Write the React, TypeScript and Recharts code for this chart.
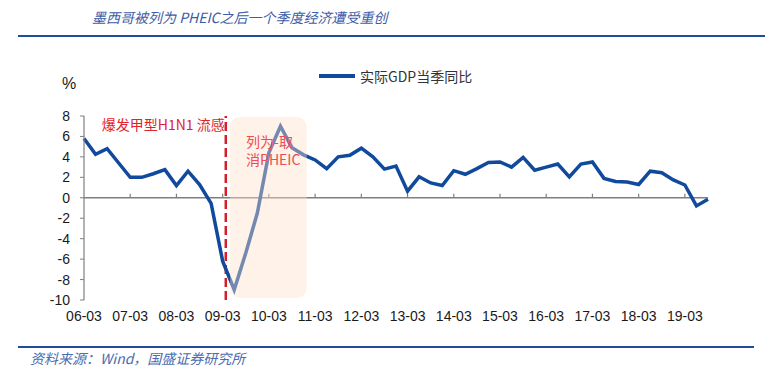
import { LineChart, Line, XAxis, YAxis, ReferenceLine, ReferenceArea } from 'recharts';

// Mexico real GDP, yoy %, quarterly 2006-03 .. 2019-09
const GDP_YOY = [
  5.8, 4.25, 4.8, 3.4, 2.0, 2.0, 2.35, 2.75, 1.2, 2.6, 1.3, -0.55,
  -6.2, -9.0, -5.4, -1.5, 4.4, 7.0, 4.9, 4.2, 3.7, 2.85, 4.0, 4.15,
  4.85, 4.0, 2.8, 3.1, 0.65, 2.05, 1.45, 1.2, 2.65, 2.3, 2.85, 3.45,
  3.5, 3.0, 3.95, 2.7, 3.0, 3.3, 2.05, 3.3, 3.5, 1.9, 1.6, 1.55,
  1.3, 2.6, 2.45, 1.75, 1.25, -0.8, -0.15,
];
const YEAR_LABELS = [
  '06-03', '07-03', '08-03', '09-03', '10-03', '11-03', '12-03',
  '13-03', '14-03', '15-03', '16-03', '17-03', '18-03', '19-03',
];
const Y_TICKS = [-10, -8, -6, -4, -2, 0, 2, 4, 6, 8];

// annotation spots, in quarter index / % units
const OUTBREAK_AT = 12.27;
const PHEIC_SPAN = [12.64, 19.28];
const PHEIC_RANGE = [-9.8, 7.9];

const data = GDP_YOY.map((v, i) => ({ i, v }));
const xTicks = YEAR_LABELS.map((_, k) => k * 4);

const CJK = '"Noto Sans CJK SC", "Liberation Sans", sans-serif';
const NUM = '"Liberation Sans", Arial, sans-serif';
const BLUE = '#114A9C';
const RED = '#E0222C';

export default function App() {
  return (
    <div
      style={{
        position: 'absolute',
        left: 0,
        top: 0,
        width: 765,
        height: 380,
        background: '#fff',
        overflow: 'hidden',
        fontFamily: CJK,
      }}
    >
      <LineChart
        width={765}
        height={380}
        data={data}
        margin={{ top: 116, right: 57, bottom: 50, left: 44 }}
        style={{ position: 'absolute', left: 0, top: 0 }}
      >
        <XAxis
          type="number"
          dataKey="i"
          domain={[0, GDP_YOY.length - 1]}
          ticks={xTicks}
          tickFormatter={(v: number) => YEAR_LABELS[v / 4]}
          axisLine={false}
          tickLine={false}
          tickMargin={5}
          height={30}
          interval={0}
          tick={{ fill: '#1a1a1a', fontSize: 14, fontFamily: NUM }}
        />
        <YAxis
          domain={[-10, 8]}
          ticks={Y_TICKS}
          interval={0}
          width={40}
          axisLine={{ stroke: '#7f7f7f', strokeWidth: 1.2 }}
          tickLine={{ stroke: '#7f7f7f' }}
          tickSize={4}
          tickMargin={10}
          tick={{ fill: '#1a1a1a', fontSize: 14, fontFamily: NUM }}
        />
        <ReferenceLine y={0} stroke="#7f7f7f" strokeWidth={1.5} />
        {xTicks.slice(1).map((t) => (
          <ReferenceLine
            key={t}
            segment={[
              { x: t, y: 0 },
              { x: t, y: 0.4 },
            ]}
            stroke="#7f7f7f"
            strokeWidth={1.2}
          />
        ))}
        <ReferenceLine
          x={OUTBREAK_AT}
          stroke="#D21F2A"
          strokeWidth={2.5}
          strokeDasharray="9 4"
          label={(p: any) => (
            <text
              x={p.viewBox.x - 1}
              y={p.viewBox.y + 14}
              textAnchor="end"
              fill={RED}
              fontSize={14}
              fontFamily={CJK}
            >
              爆发甲型H1N1 流感
            </text>
          )}
        />
        <Line
          type="linear"
          dataKey="v"
          stroke={BLUE}
          strokeWidth={3.5}
          dot={false}
          isAnimationActive={false}
        />
        <ReferenceArea
          x1={PHEIC_SPAN[0]}
          x2={PHEIC_SPAN[1]}
          y1={PHEIC_RANGE[0]}
          y2={PHEIC_RANGE[1]}
          zIndex={800}
          shape={(p: any) => (
            <rect
              x={p.x}
              y={p.y}
              width={p.width}
              height={p.height}
              rx={10}
              ry={10}
              fill="#FCE1CA"
              fillOpacity={0.42}
            />
          )}
          label={(p: any) => (
            <text
              x={p.viewBox.x + 16}
              y={p.viewBox.y + 30}
              fill="#EE4B55"
              fontSize={14}
              fontFamily={CJK}
            >
              <tspan x={p.viewBox.x + 16}>列为-取</tspan>
              <tspan x={p.viewBox.x + 16} dy={18}>
                消PHEIC
              </tspan>
            </text>
          )}
        />
      </LineChart>

      <div
        style={{
          position: 'absolute',
          left: 92,
          top: 7,
          lineHeight: '20px',
          fontSize: 14,
          fontStyle: 'italic',
          color: '#3D5DA8',
          whiteSpace: 'nowrap',
        }}
      >
        墨西哥被列为 PHEIC之后一个季度经济遭受重创
      </div>
      <div style={{ position: 'absolute', left: 18, top: 35, width: 747, height: 2, background: '#1C4E9B' }} />

      <div style={{ position: 'absolute', left: 62, top: 74, lineHeight: '20px', fontSize: 16, color: '#1a1a1a', fontFamily: NUM }}>
        %
      </div>

      <div style={{ position: 'absolute', left: 319, top: 74, width: 36, height: 3.5, background: BLUE }} />
      <div
        style={{
          position: 'absolute',
          left: 360,
          top: 66,
          lineHeight: '20px',
          fontSize: 14,
          color: '#333',
          whiteSpace: 'nowrap',
        }}
      >
        实际GDP当季同比
      </div>

      <div style={{ position: 'absolute', left: 18, top: 346, width: 736, height: 2, background: '#1C4E9B' }} />
      <div
        style={{
          position: 'absolute',
          left: 30,
          top: 348,
          lineHeight: '20px',
          fontSize: 14,
          fontStyle: 'italic',
          color: '#4A6CB0',
          whiteSpace: 'nowrap',
        }}
      >
        资料来源：Wind，国盛证券研究所
      </div>
    </div>
  );
}
